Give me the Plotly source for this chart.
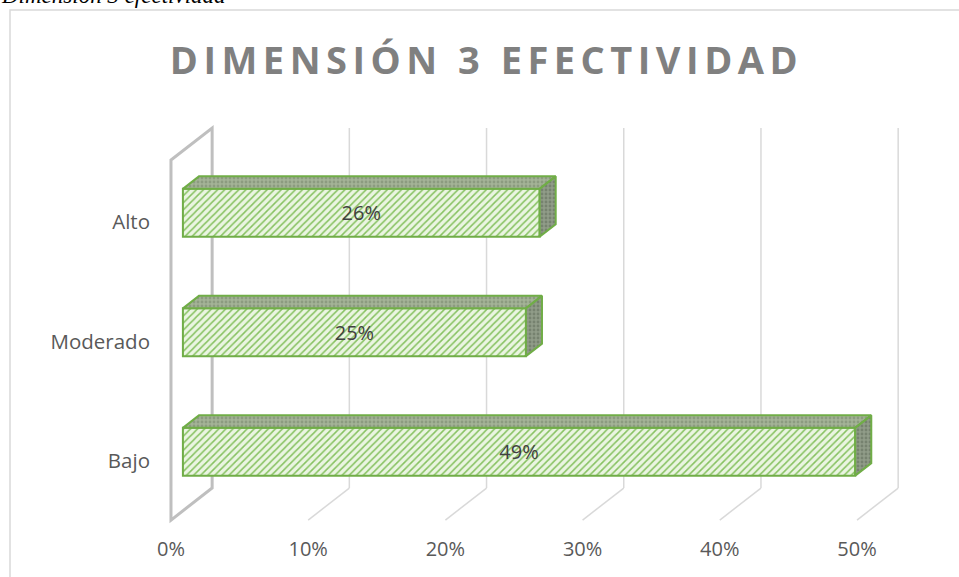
import plotly.graph_objects as go

# Data
categories = ["Bajo", "Moderado", "Alto"]
percentages = [49, 25, 26]
x_ticks = [0, 10, 20, 30, 40, 50]
x_tick_labels = ["0%", "10%", "20%", "30%", "40%", "50%"]
title_text = "DIMENSIÓN 3 EFECTIVIDAD"
caption_text = "Dimensión 3 efectividad"

# Oblique 3D projection: full depth of the floor expressed in axis units
DEPTH_X = 3.0      # % units to the right
DEPTH_Y = 0.268    # category units upward
BAR_FRONT = 0.29   # fraction of depth where the bar front face sits
BAR_BACK = 0.68    # fraction of depth where the bar back face sits
BAR_WIDTH = 0.40
FLOOR_Y = -0.494   # front edge of the floor
WALL_TOP_Y = 2.519 # top of the side wall (front edge)

GREEN = "#70ad47"
FONT = "Open Sans"

pos = list(range(len(categories)))
fx = BAR_FRONT * DEPTH_X
fy = BAR_FRONT * DEPTH_Y
dx = (BAR_BACK - BAR_FRONT) * DEPTH_X
dy = (BAR_BACK - BAR_FRONT) * DEPTH_Y

fig = go.Figure()

# Front faces of the bars
fig.add_trace(go.Bar(
    orientation="h",
    y=[p + fy for p in pos],
    x=percentages,
    base=fx,
    width=BAR_WIDTH,
    marker=dict(
        color="#e9f4e0",
        line=dict(color=GREEN, width=2),
        pattern=dict(shape="/", fgcolor="#86c160", bgcolor="#eaf5e1",
                     size=5, solidity=0.3, fillmode="replace"),
    ),
    text=[f"{v}%" for v in percentages],
    textposition="inside",
    insidetextanchor="middle",
    textangle=0,
    textfont=dict(family=FONT, size=20, color="#404040"),
    hoverinfo="skip",
    showlegend=False,
))

# Top and end faces of each bar
for p, v in zip(pos, percentages):
    yc = p + fy
    yt = yc + BAR_WIDTH / 2
    yb = yc - BAR_WIDTH / 2
    x0 = fx
    x1 = fx + v
    fig.add_trace(go.Scatter(
        x=[x0, x0 + dx, x1 + dx, x1, x0],
        y=[yt, yt + dy, yt + dy, yt, yt],
        mode="lines", fill="toself",
        fillpattern=dict(shape=".", fgcolor="#74836a", bgcolor="#a4b397",
                         size=4, solidity=0.4),
        line=dict(color=GREEN, width=2),
        hoverinfo="skip", showlegend=False,
    ))
    fig.add_trace(go.Scatter(
        x=[x1, x1 + dx, x1 + dx, x1, x1],
        y=[yb, yb + dy, yt + dy, yt, yb],
        mode="lines", fill="toself",
        fillpattern=dict(shape=".", fgcolor="#5c6755", bgcolor="#909c88",
                         size=4, solidity=0.4),
        line=dict(color=GREEN, width=2),
        hoverinfo="skip", showlegend=False,
    ))

# Back-wall gridlines and floor lines
shapes = []
back_bottom = FLOOR_Y + DEPTH_Y
back_top = WALL_TOP_Y + DEPTH_Y
for t in x_ticks[1:]:
    shapes.append(dict(type="line", xref="x", yref="y", layer="below",
                       x0=t + DEPTH_X, y0=back_bottom, x1=t + DEPTH_X, y1=back_top,
                       line=dict(color="#d9d9d9", width=1.5)))
    shapes.append(dict(type="line", xref="x", yref="y", layer="below",
                       x0=t + DEPTH_X, y0=back_bottom, x1=t, y1=FLOOR_Y,
                       line=dict(color="#d9d9d9", width=1.5)))

# Side wall outline at 0%
wall_path = (f"M {0},{FLOOR_Y} L {0},{WALL_TOP_Y} L {DEPTH_X},{back_top} "
             f"L {DEPTH_X},{back_bottom} Z")
shapes.append(dict(type="path", xref="x", yref="y", layer="below", path=wall_path,
                   line=dict(color="#bfbfbf", width=3)))

# Chart area border
shapes.append(dict(type="rect", xref="paper", yref="paper", layer="below",
                   x0=-0.1948, x1=1.06, y0=-0.15, y1=1.265,
                   line=dict(color="#d9d9d9", width=1.5)))

fig.update_layout(
    width=959, height=577,
    margin=dict(l=160, r=29, t=120, b=42),
    paper_bgcolor="white", plot_bgcolor="white",
    shapes=shapes,
    title=dict(text=f"<b>{title_text}</b>", x=0.424, xref="paper", xanchor="center",
               y=1 - 61 / 577, yref="container", yanchor="middle",
               font=dict(family=FONT, size=38, color="#808080")),
    xaxis=dict(range=[-0.80, 55.32], tickvals=x_ticks, ticktext=x_tick_labels,
               showgrid=False, zeroline=False, showline=False, ticks="",
               tickfont=dict(family=FONT, size=20, color="#595959")),
    yaxis=dict(range=[-0.619, 2.854], tickvals=pos, ticktext=categories,
               showgrid=False, zeroline=False, showline=False, ticks="",
               ticklabelstandoff=9,
               tickfont=dict(family=FONT, size=20.5, color="#595959")),
    annotations=[dict(text=f"<i>{caption_text}</i>", xref="paper", yref="paper",
                      x=-0.209, y=1.266, xanchor="left", yanchor="bottom",
                      showarrow=False,
                      font=dict(family="Liberation Serif", size=23, color="black"))],
)

fig.write_html("out.html", post_script=(
    "var t=document.querySelector('.gtitle');"
    "if(t){t.style.letterSpacing='5.5px';}"
))
